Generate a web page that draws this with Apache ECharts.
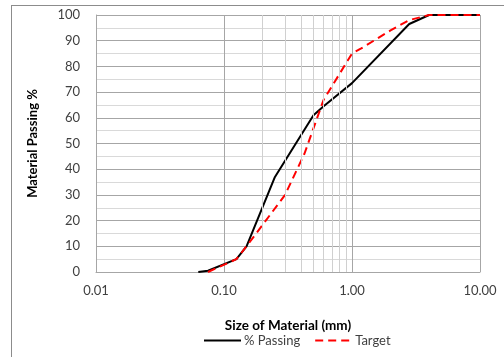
<!DOCTYPE html>
<html>
<head>
<meta charset="utf-8">
<script src="https://cdn.jsdelivr.net/npm/echarts@6/dist/echarts.min.js"></script>
<style>
  html, body { margin: 0; padding: 0; background: #fff; }
  #frame { position: absolute; left: 11px; top: 5px; width: 600px; height: 400px;
           border-left: 1px solid #8c8c8c; border-top: 1px solid #8c8c8c; }
  #chart { position: absolute; left: 0; top: 0; width: 504px; height: 357px; }
</style>
</head>
<body>
<div id="frame"></div>
<div id="chart"></div>
<script>
// sieve size (mm), percent passing
const passingSize = [0.063, 0.075, 0.125, 0.15, 0.25, 0.5, 0.6, 1.0, 2.8, 4.0, 10];
const passingPct  = [0, 0.5, 5, 10, 37, 61, 64.5, 73.5, 96.5, 100, 100];

const targetSize = [0.075, 0.125, 0.15, 0.3, 0.425, 0.6, 1.0, 1.18, 2.0, 2.36, 2.8, 4.0, 10];
const targetPct  = [0, 5, 10, 30, 46, 67, 85, 87, 94, 96, 98, 100, 100];

// minor vertical grid only drawn in the 0.1 - 1 decade
const minorGridX = [0.2, 0.3, 0.4, 0.5, 0.6, 0.7, 0.8, 0.9];

const pairs = (xs, ys) => xs.map((x, i) => [x, ys[i]]);

let chart = echarts.init(document.getElementById('chart'), null, {renderer: 'canvas'});

const font = 'Lato, "Open Sans", sans-serif';

let option = {
    animation: false,
    textStyle: {fontFamily: font},
    grid: {left: 96, right: 24, top: 15, bottom: 85, containLabel: false},
    legend: {
        bottom: 5,
        left: 198,
        itemWidth: 37,
        itemHeight: 10,
        itemGap: 14,
        itemStyle: {opacity: 0},
        textStyle: {fontFamily: font, fontSize: 13, color: '#404040', padding: [0, 0, 0, -2]},
        data: ['% Passing', 'Target']
    },
    xAxis: {
        type: 'log',
        logBase: 10,
        min: 0.01,
        max: 10,
        name: 'Size of Material (mm)',
        nameLocation: 'middle',
        nameGap: 47,
        nameTextStyle: {fontFamily: font, fontSize: 13.5, fontWeight: 'bold', color: '#000'},
        axisLine: {lineStyle: {color: '#a6a6a6', width: 1}},
        axisTick: {show: false},
        axisLabel: {
            margin: 12,
            fontSize: 13,
            color: '#404040',
            formatter: v => v.toFixed(2)
        },
        splitLine: {show: true, lineStyle: {color: '#a6a6a6', width: 1}}
    },
    yAxis: {
        type: 'value',
        min: 0,
        max: 100,
        interval: 10,
        name: 'Material Passing %',
        nameLocation: 'middle',
        nameGap: 57,
        nameTextStyle: {fontFamily: font, fontSize: 13, fontWeight: 'bold', color: '#000'},
        axisLine: {show: true, lineStyle: {color: '#a6a6a6', width: 1}},
        axisTick: {show: false},
        axisLabel: {margin: 16, fontSize: 13, color: '#404040'},
        splitLine: {show: true, lineStyle: {color: '#a6a6a6', width: 1}},
        minorTick: {show: false, splitNumber: 2},
        minorSplitLine: {show: true, lineStyle: {color: '#d9d9d9', width: 1}}
    },
    series: [
        {
            name: 'minor',
            type: 'line',
            data: [],
            silent: true,
            z: 1,
            markLine: {
                silent: true,
                symbol: 'none',
                label: {show: false},
                lineStyle: {color: '#d0d0d0', width: 1, type: 'solid'},
                data: minorGridX.map(x => ({xAxis: x}))
            }
        },
        {
            name: '% Passing',
            type: 'line',
            symbol: 'none',
            z: 3,
            data: pairs(passingSize, passingPct),
            lineStyle: {color: '#000', width: 2},
            itemStyle: {color: '#000'}
        },
        {
            name: 'Target',
            type: 'line',
            symbol: 'none',
            z: 4,
            data: pairs(targetSize, targetPct),
            lineStyle: {color: '#ff0000', width: 2, type: [8, 5]},
            itemStyle: {color: '#ff0000'}
        }
    ]
};

chart.setOption(option);
</script>
</body>
</html>
